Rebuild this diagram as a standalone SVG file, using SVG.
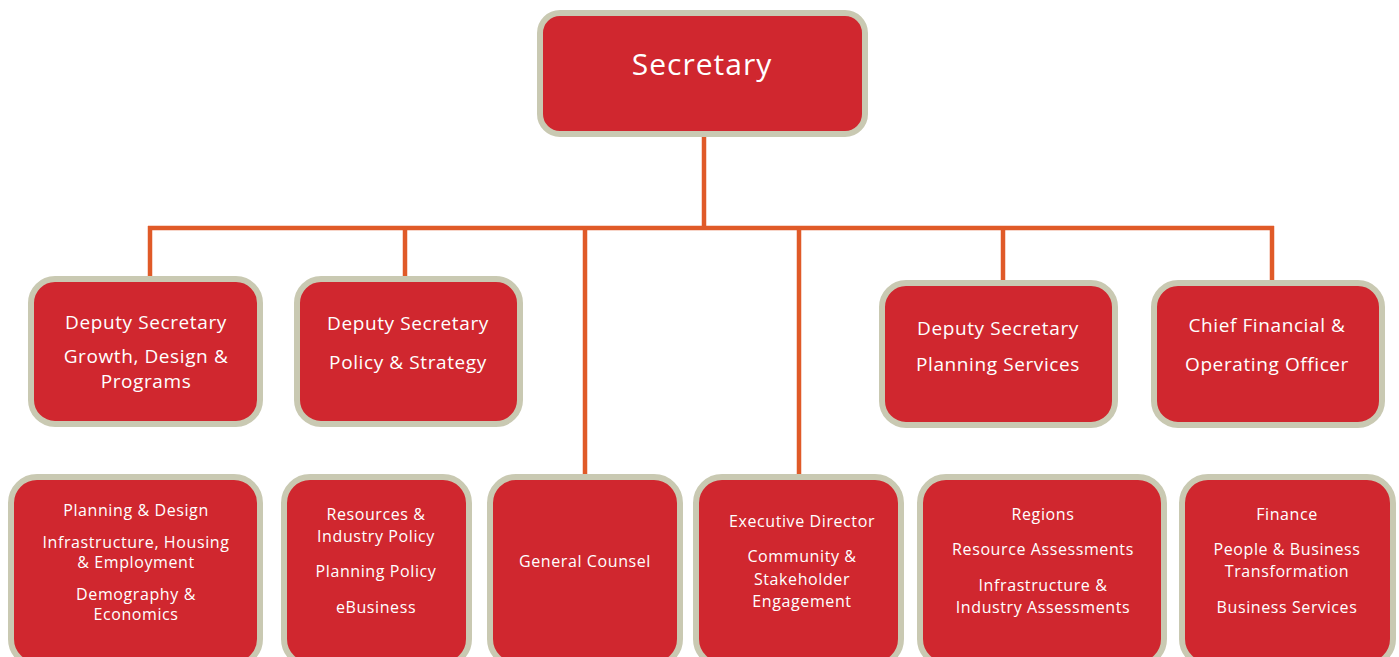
<svg xmlns="http://www.w3.org/2000/svg" width="1399" height="657" viewBox="0 0 1399 657">
<style>
.box{fill:#d0272f;stroke:#c9c9b2;stroke-width:6}
.t{font-family:"Open Sans","Liberation Sans",sans-serif;fill:#ffffff;text-anchor:middle}
.t1{font-size:30px;letter-spacing:1px}
.t2{font-size:19px;letter-spacing:0.6px}
.t3{font-size:16px;letter-spacing:0.6px}
.c{stroke:#e05a28;stroke-width:4.5;fill:none}
</style>
<rect width="1399" height="657" fill="#ffffff"/>
<g id="connectors">
<line class="c" x1="704" y1="136" x2="704" y2="228"/>
<line class="c" x1="148" y1="228" x2="1274" y2="228"/>
<line class="c" x1="150" y1="226" x2="150" y2="279"/>
<line class="c" x1="405" y1="226" x2="405" y2="279"/>
<line class="c" x1="585" y1="226" x2="585" y2="477"/>
<line class="c" x1="799" y1="226" x2="799" y2="477"/>
<line class="c" x1="1003" y1="226" x2="1003" y2="283"/>
<line class="c" x1="1272" y1="226" x2="1272" y2="283"/>
</g>
<g id="secretary">
<rect class="box" x="540" y="13" width="325" height="121" rx="20"/>
<text class="t t1" x="702" y="75">Secretary</text>
</g>
<g id="ds-growth">
<rect class="box" x="31" y="279" width="229" height="145" rx="24"/>
<text class="t t2" x="146" y="329">Deputy Secretary</text>
<text class="t t2" x="146" y="363">Growth, Design &amp;</text>
<text class="t t2" x="146" y="388">Programs</text>
</g>
<g id="ds-policy">
<rect class="box" x="297" y="279" width="223" height="145" rx="24"/>
<text class="t t2" x="408" y="330">Deputy Secretary</text>
<text class="t t2" x="408" y="369">Policy &amp; Strategy</text>
</g>
<g id="ds-planning">
<rect class="box" x="882" y="283" width="233" height="142" rx="24"/>
<text class="t t2" x="998" y="335">Deputy Secretary</text>
<text class="t t2" x="998" y="371">Planning Services</text>
</g>
<g id="cfo">
<rect class="box" x="1154" y="283" width="228" height="142" rx="24"/>
<text class="t t2" x="1267" y="332">Chief Financial &amp;</text>
<text class="t t2" x="1267" y="371">Operating Officer</text>
</g>
<g id="growth-units">
<rect class="box" x="11" y="477" width="249" height="188" rx="26"/>
<text class="t t3" x="136" y="516">Planning &amp; Design</text>
<text class="t t3" x="136" y="548">Infrastructure, Housing</text>
<text class="t t3" x="136" y="568">&amp; Employment</text>
<text class="t t3" x="136" y="600">Demography &amp;</text>
<text class="t t3" x="136" y="620">Economics</text>
</g>
<g id="policy-units">
<rect class="box" x="284" y="477" width="185" height="188" rx="26"/>
<text class="t t3" x="376" y="520">Resources &amp;</text>
<text class="t t3" x="376" y="542">Industry Policy</text>
<text class="t t3" x="376" y="577">Planning Policy</text>
<text class="t t3" x="376" y="613">eBusiness</text>
</g>
<g id="general-counsel">
<rect class="box" x="490" y="477" width="190" height="188" rx="26"/>
<text class="t t3" x="585" y="567">General Counsel</text>
</g>
<g id="community">
<rect class="box" x="696" y="477" width="205" height="188" rx="26"/>
<text class="t t3" x="802" y="527">Executive Director</text>
<text class="t t3" x="802" y="562">Community &amp;</text>
<text class="t t3" x="802" y="585">Stakeholder</text>
<text class="t t3" x="802" y="607">Engagement</text>
</g>
<g id="planning-units">
<rect class="box" x="920" y="477" width="244" height="188" rx="26"/>
<text class="t t3" x="1043" y="520">Regions</text>
<text class="t t3" x="1043" y="555">Resource Assessments</text>
<text class="t t3" x="1043" y="591">Infrastructure &amp;</text>
<text class="t t3" x="1043" y="613">Industry Assessments</text>
</g>
<g id="cfo-units">
<rect class="box" x="1182" y="477" width="211" height="188" rx="26"/>
<text class="t t3" x="1287" y="520">Finance</text>
<text class="t t3" x="1287" y="555">People &amp; Business</text>
<text class="t t3" x="1287" y="577">Transformation</text>
<text class="t t3" x="1287" y="613">Business Services</text>
</g>
</svg>
